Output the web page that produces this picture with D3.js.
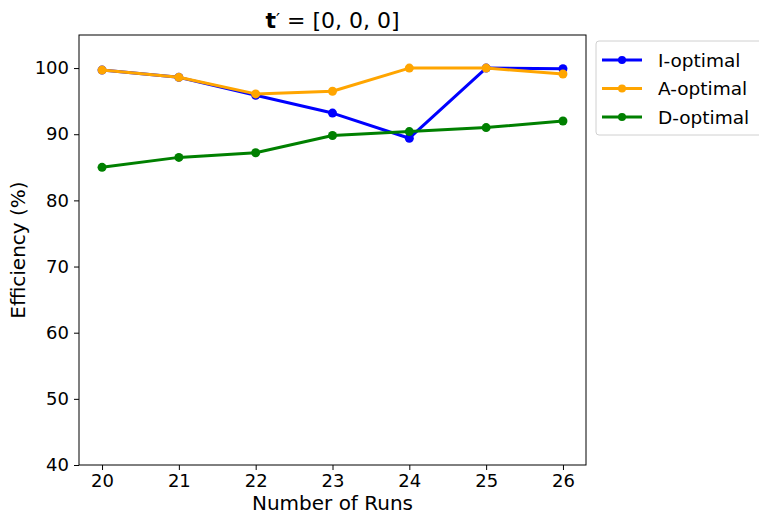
<!DOCTYPE html>
<html>
<head>
<meta charset="utf-8">
<script src="https://cdn.jsdelivr.net/npm/d3@7"></script>
<style>
  body { margin: 0; background: #fff; }
  text { font-family: "DejaVu Sans", sans-serif; fill: #000; }
</style>
</head>
<body>
<svg id="chart" width="759" height="514"></svg>
<script>
// Number of runs on the x axis
const runs = [20, 21, 22, 23, 24, 25, 26];

// Efficiency (%) of each design criterion
const iOptimal = [99.7, 98.6, 95.9, 93.2, 89.4, 100.0, 99.9];
const aOptimal = [99.7, 98.6, 96.1, 96.5, 100.0, 100.0, 99.1];
const dOptimal = [85.0, 86.5, 87.2, 89.8, 90.4, 91.0, 92.0];

const seriesNames = ["I-optimal", "A-optimal", "D-optimal"];
const seriesColors = ["#0000ff", "#ffa500", "#008000"];

const yTicks = [40, 50, 60, 70, 80, 90, 100];

const series = [iOptimal, aOptimal, dOptimal].map((vals, i) => ({
  name: seriesNames[i],
  color: seriesColors[i],
  points: runs.map((r, j) => ({ x: r, y: vals[j] }))
}));

const svg = d3.select("#chart");
const margin = { left: 79, right: 173, top: 35, bottom: 49 };
const W = 759, H = 514;

const x = d3.scaleLinear().domain([19.7, 26.3]).range([margin.left, W - margin.right]);
const y = d3.scaleLinear().domain([40, 105]).range([H - margin.bottom, margin.top]);

// Axes
const xAxis = svg.append("g")
  .attr("transform", `translate(0,${H - margin.bottom})`)
  .call(d3.axisBottom(x).tickValues(runs).tickFormat(d3.format("d")).tickSize(5).tickPadding(4));
const yAxis = svg.append("g")
  .attr("transform", `translate(${margin.left},0)`)
  .call(d3.axisLeft(y).tickValues(yTicks).tickSize(5).tickPadding(5));
[xAxis, yAxis].forEach(g => {
  g.select(".domain").remove();
  g.selectAll("line").attr("stroke", "#000").attr("stroke-width", 1);
  g.selectAll("text").style("font-size", "18px").style("font-family", "DejaVu Sans");
});

// Frame
svg.append("rect")
  .attr("x", margin.left).attr("y", margin.top)
  .attr("width", W - margin.right - margin.left)
  .attr("height", H - margin.bottom - margin.top)
  .attr("fill", "none").attr("stroke", "#000").attr("stroke-width", 1);

// Lines and markers
const line = d3.line().x(d => x(d.x)).y(d => y(d.y));
series.forEach(s => {
  const g = svg.append("g");
  g.append("path").datum(s.points)
    .attr("d", line).attr("fill", "none")
    .attr("stroke", s.color).attr("stroke-width", 3)
    .attr("stroke-linejoin", "round");
  g.selectAll("circle").data(s.points).enter().append("circle")
    .attr("cx", d => x(d.x)).attr("cy", d => y(d.y)).attr("r", 4.5)
    .attr("fill", s.color);
});

// Title: bold t with prime
const title = svg.append("text")
  .attr("x", (margin.left + W - margin.right) / 2).attr("y", 28)
  .attr("text-anchor", "middle").style("font-size", "22px");
title.append("tspan").attr("font-weight", "bold").text("t");
title.append("tspan").attr("dy", -2).style("font-size", "18px").text("′");
title.append("tspan").attr("dy", 2).text(" = [0, 0, 0]");

// Axis labels
svg.append("text")
  .attr("x", (margin.left + W - margin.right) / 2).attr("y", 510)
  .attr("text-anchor", "middle").style("font-size", "20px")
  .text("Number of Runs");
svg.append("text")
  .attr("transform", `translate(25,${(margin.top + H - margin.bottom) / 2}) rotate(-90)`)
  .attr("text-anchor", "middle").style("font-size", "20px")
  .text("Efficiency (%)");

// Legend
const lg = svg.append("g").attr("transform", "translate(596,41)");
lg.append("rect").attr("x", 0).attr("y", 0).attr("width", 170).attr("height", 94)
  .attr("rx", 3).attr("fill", "#fff").attr("stroke", "#d0d0d0").attr("stroke-width", 1);
series.forEach((s, i) => {
  const ry = 19 + i * 28.5;
  lg.append("line").attr("x1", 6).attr("x2", 46).attr("y1", ry).attr("y2", ry)
    .attr("stroke", s.color).attr("stroke-width", 3);
  lg.append("circle").attr("cx", 26).attr("cy", ry).attr("r", 4).attr("fill", s.color);
  lg.append("text").attr("x", 62).attr("y", ry + 6.5).style("font-size", "18.5px").text(s.name);
});
</script>
</body>
</html>
